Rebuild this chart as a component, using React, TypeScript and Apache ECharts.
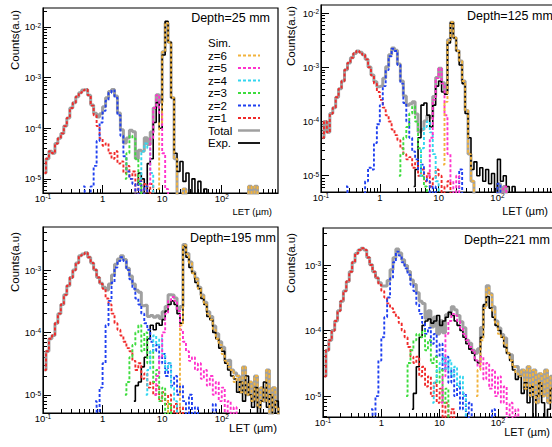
import { useEffect, useRef } from 'react';
import * as echarts from 'echarts';

const FONT = '"Liberation Sans", Arial, Helvetica, sans-serif';

// LET bin centres (µm), 20 bins per decade
const LET_BINS = [
  0.106, 0.119, 0.133, 0.150, 0.168, 0.188, 0.211, 0.237, 0.266, 0.299,
  0.335, 0.376, 0.422, 0.473, 0.531, 0.596, 0.668, 0.750, 0.841, 0.944,
  1.06, 1.19, 1.33, 1.50, 1.68, 1.88, 2.11, 2.37, 2.66, 2.99,
  3.35, 3.76, 4.22, 4.73, 5.31, 5.96, 6.68, 7.50, 8.41, 9.44,
  10.6, 11.9, 13.3, 15.0, 16.8, 18.8, 21.1, 23.7, 26.6, 29.9,
  33.5, 37.6, 42.2, 47.3, 53.1, 59.6, 66.8, 75.0, 84.1, 94.4,
  106, 119, 133, 150, 168, 188, 211, 237, 266, 299,
  335, 376, 422, 473, 531, 596, 668, 750, 841, 944,
];

const SPECIES = ['z=1', 'z=2', 'z=3', 'z=4', 'z=5', 'z=6'];
const SPECIES_COLORS = ['#f02a2a', '#2040f0', '#3ddc3d', '#33d6f0', '#ff33cc', '#f2b33d'];
const TOTAL_COLOR = '#a0a0a0';
const EXP_COLOR = '#000000';

// ---------- Depth = 25 mm ----------
const D25_Z1_FROM = 0;
const D25_Z1 = [1.3e-5, 2.5e-5, 3.5e-5, 3.2e-5, 5.0e-5, 6.3e-5, 7.9e-5, 1.1e-4, 1.6e-4, 2.5e-4, 3.2e-4, 4.2e-4, 5.0e-4, 5.6e-4, 5.8e-4, 4.5e-4, 2.8e-4, 1.8e-4, 1.1e-4, 6.3e-5, 4.5e-5, 5.0e-5, 3.2e-5, 2.5e-5, 3.5e-5, 2.0e-5, 2.2e-5, 1.3e-5, 1.8e-5, 1.0e-5, 1.4e-5, 0, 1.0e-5, 0, 7.9e-6, 0, 7.9e-6, 0];
const D25_Z2_FROM = 13;
const D25_Z2 = [7.1e-6, 0, 0, 7.1e-6, 1.8e-5, 5.6e-5, 1.3e-4, 2.2e-4, 3.5e-4, 5.0e-4, 5.6e-4, 4.0e-4, 1.8e-4, 7.1e-5, 2.8e-5, 1.4e-5, 1.0e-5, 7.9e-6, 0, 8.9e-6, 0, 7.1e-6, 0];
const D25_Z3_FROM = 27;
const D25_Z3 = [1.0e-5, 3.2e-5, 7.1e-5, 6.3e-5, 2.5e-5, 7.9e-6, 0];
const D25_Z4_FROM = 32;
const D25_Z4 = [1.0e-5, 3.5e-5, 5.0e-5, 4.0e-5, 1.3e-5, 0];
const D25_Z5_FROM = 35;
const D25_Z5 = [7.9e-6, 6.3e-5, 2.5e-4, 4.5e-4, 2.0e-4, 3.2e-5, 6.3e-6, 0];
const D25_Z6_FROM = 38;
const D25_Z6 = [6.3e-6, 1.3e-4, 3.2e-3, 1.2e-2, 5.0e-3, 4.0e-4, 2.5e-5, 0, 0, 6.3e-6,
  0, 0, 0, 0, 0, 0, 0, 0, 0, 0, 0, 0, 0, 0, 0, 0, 0, 0, 0, 0, 0,
  7.1e-6, 0, 7.1e-6, 0];
const D25_EXP_FROM = 31;
const D25_EXP = [7.9e-6, 1.3e-5, 1.0e-5, 0, 2.0e-5, 2.5e-5, 1.3e-4, 3.2e-4, 1.0e-4, 2.8e-3, 1.3e-2, 5.0e-3, 4.0e-4, 3.2e-5, 1.4e-5, 2.2e-5, 8.9e-6, 1.3e-5, 0, 1.0e-5, 0, 8.9e-6, 0, 6.3e-6, 0];

// ---------- Depth = 125 mm ----------
const D125_Z1_FROM = 0;
const D125_Z1 = [5.0e-5, 1.0e-4, 6.3e-5, 1.4e-4, 1.8e-4, 2.8e-4, 4.0e-4, 5.6e-4, 8.9e-4, 1.2e-3, 1.5e-3, 1.8e-3, 2.0e-3, 1.9e-3, 1.7e-3, 1.4e-3, 1.0e-3, 7.1e-4, 5.0e-4, 3.5e-4, 2.5e-4, 1.8e-4, 1.3e-4, 1.0e-4, 7.1e-5, 5.6e-5, 4.5e-5, 3.2e-5, 2.5e-5, 2.0e-5, 2.2e-5, 1.4e-5, 1.8e-5, 1.0e-5, 1.3e-5, 7.9e-6, 1.1e-5, 6.3e-6, 8.9e-6, 1.3e-5, 1.0e-5, 0, 6.3e-6, 7.9e-6, 0];
const D125_Z2_FROM = 8;
const D125_Z2 = [6.3e-6, 0, 0, 0, 0, 0, 0, 7.9e-6, 1.4e-5, 1.3e-5, 4.0e-5, 8.9e-5, 2.0e-4, 4.5e-4, 8.9e-4, 1.6e-3, 2.2e-3, 2.0e-3, 1.1e-3, 5.0e-4, 2.2e-4, 1.0e-4, 5.0e-5, 2.8e-5, 2.0e-5, 1.3e-5, 1.6e-5, 8.9e-6, 7.9e-6, 0, 6.3e-6, 0, 0, 0, 0, 0, 0, 0, 0, 1.3e-5, 0, 0, 0, 0, 0, 0, 0, 0, 0, 0, 0, 0, 7.1e-6, 0];
const D125_Z3_FROM = 26;
const D125_Z3 = [1.0e-5, 2.5e-5, 5.0e-5, 7.9e-5, 1.4e-4, 1.9e-4, 1.0e-4, 3.2e-5, 1.0e-5, 6.3e-6, 0];
const D125_Z4_FROM = 33;
const D125_Z4 = [1.0e-5, 3.2e-5, 7.9e-5, 1.0e-4, 6.3e-5, 2.5e-5, 7.9e-6, 0];
const D125_Z5_FROM = 36;
const D125_Z5 = [1.0e-5, 5.0e-5, 2.5e-4, 6.3e-4, 9.5e-4, 5.0e-4, 1.3e-4, 2.5e-5, 7.9e-6, 0, 1.0e-5, 0, 0, 0, 0, 0, 0, 0, 0, 0, 0, 0, 0, 0, 0, 0, 6.3e-6, 0];
const D125_Z6_FROM = 41;
const D125_Z6 = [1.6e-5, 2.3e-4, 3.2e-3, 6.8e-3, 3.5e-3, 2.0e-3, 1.3e-3, 5.6e-4, 1.6e-4, 2.5e-5, 7.9e-6, 0];
const D125_EXP_FROM = 31;
const D125_EXP = [6.3e-6, 1.3e-5, 5.0e-5, 2.0e-4, 2.2e-4, 1.3e-4, 7.9e-5, 2.0e-4, 4.5e-4, 5.6e-4, 3.5e-4, 3.2e-4, 2.8e-3, 6.6e-3, 3.5e-3, 2.0e-3, 1.1e-3, 5.0e-4, 1.4e-4, 5.0e-5, 1.3e-5, 1.8e-5, 1.0e-5, 1.4e-5, 7.9e-6, 1.3e-5, 7.1e-6, 1.1e-5, 0, 2.0e-5, 7.9e-6, 1.0e-5, 6.3e-6, 0, 6.3e-6, 0];

// ---------- Depth = 195 mm ----------
const D195_Z1_FROM = 0;
const D195_Z1 = [2.5e-5, 5.0e-5, 7.9e-5, 8.9e-5, 1.4e-4, 2.0e-4, 2.8e-4, 4.0e-4, 5.6e-4, 7.6e-4, 1.0e-3, 1.3e-3, 1.7e-3, 1.8e-3, 1.9e-3, 1.6e-3, 1.3e-3, 1.0e-3, 7.6e-4, 6.0e-4, 5.0e-4, 3.5e-4, 2.8e-4, 2.0e-4, 1.4e-4, 1.1e-4, 8.9e-5, 7.1e-5, 5.6e-5, 5.0e-5, 3.5e-5, 2.5e-5, 3.2e-5, 1.8e-5, 2.2e-5, 1.3e-5, 1.6e-5, 1.0e-5, 1.4e-5, 7.9e-6, 1.1e-5, 7.1e-6, 1.0e-5, 0, 7.1e-6, 0, 6.3e-6, 0];
const D195_Z2_FROM = 17;
const D195_Z2 = [7.9e-6, 0, 1.3e-5, 3.2e-5, 1.3e-4, 3.2e-4, 6.3e-4, 1.1e-3, 1.4e-3, 1.6e-3, 1.4e-3, 1.0e-3, 7.1e-4, 5.0e-4, 3.5e-4, 2.8e-4, 2.0e-4, 1.4e-4, 1.1e-4, 7.1e-5, 5.0e-5, 6.3e-5, 3.2e-5, 4.5e-5, 2.0e-5, 3.2e-5, 1.4e-5, 2.0e-5, 1.0e-5, 1.4e-5, 7.9e-6, 0, 1.0e-5, 0, 6.3e-6, 0, 0, 0, 0, 0, 7.1e-6, 0];
const D195_Z3_FROM = 27;
const D195_Z3 = [1.0e-5, 1.6e-5, 4.0e-5, 6.3e-5, 1.0e-4, 1.3e-4, 5.0e-5, 1.0e-4, 3.2e-5, 5.0e-5, 1.6e-5, 2.5e-5, 7.9e-6, 1.3e-5, 0, 7.1e-6, 0];
const D195_Z4_FROM = 34;
const D195_Z4 = [1.0e-5, 2.5e-5, 5.0e-5, 8.9e-5, 6.3e-5, 7.9e-5, 4.5e-5, 2.5e-5, 3.2e-5, 1.3e-5, 7.9e-6, 0];
const D195_Z5_FROM = 37;
const D195_Z5 = [1.0e-5, 2.0e-5, 4.0e-5, 1.0e-4, 2.0e-4, 3.2e-4, 3.7e-4, 3.2e-4, 2.2e-4, 1.1e-4, 7.1e-5, 5.0e-5, 3.5e-5, 4.0e-5, 2.5e-5, 3.2e-5, 1.8e-5, 2.5e-5, 1.4e-5, 2.0e-5, 1.0e-5, 1.6e-5, 7.9e-6, 1.3e-5, 0, 7.9e-6, 0, 6.3e-6, 0];
const D195_Z6_FROM = 41;
const D195_Z6 = [7.9e-6, 0, 0, 0, 0, 1.3e-4, 2.5e-3, 1.8e-3, 1.3e-3, 8.9e-4, 7.1e-4, 5.0e-4, 3.8e-4, 2.8e-4, 2.0e-4, 1.6e-4, 1.1e-4, 7.9e-5, 6.3e-5, 4.5e-5, 3.5e-5, 2.8e-5, 2.5e-5, 1.6e-5, 2.0e-5, 1.1e-5, 2.8e-5, 1.0e-5, 1.6e-5, 7.9e-6, 2.0e-5, 6.3e-6, 1.3e-5, 7.9e-6, 2.5e-5, 0, 1.3e-5, 6.3e-6, 0];
const D195_EXP_FROM = 30;
const D195_EXP = [7.9e-6, 1.4e-5, 1.6e-5, 2.8e-5, 4.0e-5, 7.9e-5, 1.3e-4, 1.1e-4, 1.4e-4, 1.3e-4, 1.6e-4, 2.2e-4, 2.8e-4, 3.2e-4, 2.8e-4, 2.0e-4, 1.4e-4, 2.4e-3, 1.6e-3, 1.1e-3, 8.9e-4, 6.3e-4, 5.0e-4, 3.5e-4, 2.8e-4, 1.8e-4, 1.6e-4, 1.0e-4, 7.9e-5, 5.6e-5, 5.0e-5, 3.2e-5, 2.5e-5, 2.0e-5, 1.8e-5, 1.1e-5, 1.6e-5, 7.9e-6, 2.0e-5, 1.0e-5, 6.3e-6, 1.3e-5, 0, 7.9e-6, 1.6e-5, 6.3e-6, 1.0e-5, 0, 7.9e-6, 0];

// ---------- Depth = 221 mm ----------
const D221_Z1_FROM = 0;
const D221_Z1 = [2.0e-5, 5.0e-5, 7.1e-5, 1.0e-4, 1.4e-4, 2.0e-4, 2.8e-4, 4.0e-4, 5.6e-4, 7.9e-4, 1.1e-3, 1.5e-3, 1.7e-3, 1.8e-3, 1.7e-3, 1.3e-3, 1.0e-3, 7.9e-4, 6.3e-4, 5.0e-4, 4.0e-4, 3.2e-4, 2.6e-4, 2.2e-4, 1.9e-4, 1.6e-4, 1.3e-4, 1.0e-4, 7.9e-5, 5.6e-5, 4.0e-5, 3.2e-5, 4.0e-5, 2.0e-5, 2.8e-5, 1.4e-5, 2.0e-5, 1.0e-5, 1.6e-5, 7.9e-6, 1.3e-5, 0, 7.9e-6, 0, 6.3e-6, 0];
const D221_Z2_FROM = 16;
const D221_Z2 = [6.3e-6, 0, 1.0e-5, 3.5e-5, 7.9e-5, 1.6e-4, 3.2e-4, 6.3e-4, 1.1e-3, 1.6e-3, 1.4e-3, 1.1e-3, 8.9e-4, 7.1e-4, 5.0e-4, 4.0e-4, 2.5e-4, 1.8e-4, 1.3e-4, 8.9e-5, 1.1e-4, 6.3e-5, 8.9e-5, 4.0e-5, 6.3e-5, 2.5e-5, 4.0e-5, 1.6e-5, 2.5e-5, 1.0e-5, 1.6e-5, 6.3e-6, 1.1e-5, 0, 7.9e-6, 0, 0, 0, 0, 0, 0, 0, 6.3e-6, 0];
const D221_Z3_FROM = 28;
const D221_Z3 = [1.0e-5, 3.2e-5, 5.0e-5, 7.1e-5, 8.9e-5, 7.9e-5, 1.0e-4, 5.0e-5, 7.1e-5, 3.2e-5, 4.0e-5, 1.6e-5, 2.5e-5, 7.9e-6, 1.3e-5, 0];
const D221_Z4_FROM = 37;
const D221_Z4 = [7.9e-6, 1.6e-5, 2.5e-5, 3.2e-5, 4.0e-5, 2.5e-5, 3.5e-5, 2.0e-5, 2.8e-5, 1.4e-5, 2.0e-5, 1.0e-5, 0];
const D221_Z5_FROM = 40;
const D221_Z5 = [7.9e-6, 2.0e-5, 8.9e-5, 1.4e-4, 1.8e-4, 1.7e-4, 1.4e-4, 1.1e-4, 8.9e-5, 7.1e-5, 5.6e-5, 5.0e-5, 3.5e-5, 2.8e-5, 4.0e-5, 1.8e-5, 3.2e-5, 1.3e-5, 2.5e-5, 1.0e-5, 2.0e-5, 7.9e-6, 1.4e-5, 0, 7.9e-6, 0, 6.3e-6, 0];
const D221_Z6_FROM = 52;
const D221_Z6 = [1.0e-5, 2.5e-5, 7.1e-5, 2.2e-4, 4.5e-4, 3.5e-4, 2.0e-4, 1.3e-4, 8.9e-5, 7.9e-5, 6.3e-5, 4.5e-5, 3.5e-5, 2.8e-5, 2.2e-5, 2.0e-5, 2.5e-5, 1.3e-5, 2.8e-5, 1.0e-5, 2.5e-5, 7.9e-6, 2.2e-5, 1.0e-5, 2.5e-5, 7.9e-6, 2.0e-5, 1.0e-5];
const D221_EXP_FROM = 30;
const D221_EXP = [6.3e-6, 1.1e-5, 2.8e-5, 7.9e-5, 1.2e-4, 1.4e-4, 1.5e-4, 1.3e-4, 1.4e-4, 1.7e-4, 1.2e-4, 1.4e-4, 1.6e-4, 1.9e-4, 1.7e-4, 1.4e-4, 1.2e-4, 1.0e-4, 7.9e-5, 6.3e-5, 5.2e-5, 4.5e-5, 3.5e-5, 3.2e-5, 7.9e-5, 2.5e-4, 3.3e-4, 2.2e-4, 1.6e-4, 1.2e-4, 1.0e-4, 7.9e-5, 5.6e-5, 4.5e-5, 3.5e-5, 2.5e-5, 1.8e-5, 2.0e-5, 1.1e-5, 1.6e-5, 7.9e-6, 1.4e-5, 0, 1.0e-5, 1.6e-5, 7.9e-6, 0, 6.3e-6, 1.3e-5, 0];

// Axis ranges
const X_MIN = 0.1;
const X_MAX = 880;

type Hist = [number, number[]];
type Panel = {
  depth: string;
  yMin: number;
  yMax: number;
  sims: Hist[];
  exp: Hist;
  grid: { left: number; top: number; width: number; height: number };
  depthPos: [number, number, string];
  yNamePos: [number, number];
  xNamePos: [number, number, string, number];
};

const PANELS: Panel[] = [
  {
    depth: 'Depth=25 mm', yMin: 5.25e-6, yMax: 0.0237,
    sims: [[D25_Z1_FROM, D25_Z1], [D25_Z2_FROM, D25_Z2], [D25_Z3_FROM, D25_Z3], [D25_Z4_FROM, D25_Z4], [D25_Z5_FROM, D25_Z5], [D25_Z6_FROM, D25_Z6]],
    exp: [D25_EXP_FROM, D25_EXP],
    grid: { left: 43, top: 8, width: 235, height: 185 },
    depthPos: [270, 18, 'right'], yNamePos: [15, 40], xNamePos: [272, 211, 'right', 9.5],
  },
  {
    depth: 'Depth=125 mm', yMin: 5.0e-6, yMax: 0.0141,
    sims: [[D125_Z1_FROM, D125_Z1], [D125_Z2_FROM, D125_Z2], [D125_Z3_FROM, D125_Z3], [D125_Z4_FROM, D125_Z4], [D125_Z5_FROM, D125_Z5], [D125_Z6_FROM, D125_Z6]],
    exp: [D125_EXP_FROM, D125_EXP],
    grid: { left: 321, top: 5, width: 232, height: 187 },
    depthPos: [467, 16, 'left'], yNamePos: [291, 36], xNamePos: [548, 211, 'right', 11],
  },
  {
    depth: 'Depth=195 mm', yMin: 5.1e-6, yMax: 0.0049,
    sims: [[D195_Z1_FROM, D195_Z1], [D195_Z2_FROM, D195_Z2], [D195_Z3_FROM, D195_Z3], [D195_Z4_FROM, D195_Z4], [D195_Z5_FROM, D195_Z5], [D195_Z6_FROM, D195_Z6]],
    exp: [D195_EXP_FROM, D195_EXP],
    grid: { left: 43, top: 227, width: 235, height: 186 },
    depthPos: [190, 238, 'left'], yNamePos: [15, 262], xNamePos: [277, 428, 'right', 11.5],
  },
  {
    depth: 'Depth=221 mm', yMin: 4.8e-6, yMax: 0.00367,
    sims: [[D221_Z1_FROM, D221_Z1], [D221_Z2_FROM, D221_Z2], [D221_Z3_FROM, D221_Z3], [D221_Z4_FROM, D221_Z4], [D221_Z5_FROM, D221_Z5], [D221_Z6_FROM, D221_Z6]],
    exp: [D221_EXP_FROM, D221_EXP],
    grid: { left: 323, top: 228, width: 230, height: 189 },
    depthPos: [464, 240, 'left'], yNamePos: [291, 263], xNamePos: [550, 432, 'right', 11],
  },
];

// empty bins are drawn below the frame (clipped), like ROOT does
const EMPTY_BIN = 1e-8;

function binned([from, counts]: Hist) {
  return counts.map((c, k) => [LET_BINS[from + k], c > 0 ? c : EMPTY_BIN]);
}

function totalOf(parts: Hist[]) {
  const sums = LET_BINS.map(() => 0);
  let lo = LET_BINS.length, hi = -1;
  parts.forEach(([from, counts]) => counts.forEach((c, k) => {
    sums[from + k] += c;
    if (c > 0) { lo = Math.min(lo, from + k); hi = Math.max(hi, from + k); }
  }));
  const out: number[][] = [];
  for (let i = lo; i <= Math.min(hi + 1, LET_BINS.length - 1); i++) out.push([LET_BINS[i], sums[i] > 0 ? sums[i] : EMPTY_BIN]);
  return out;
}

function minorTicks(lo: number, hi: number) {
  const out: number[] = [];
  for (let k = -7; k <= 3; k++) for (let m = 2; m <= 9; m++) {
    const v = m * Math.pow(10, k);
    if (v > lo && v < hi) out.push(v);
  }
  return out;
}

function logLabel(v: number) {
  const l = Math.log10(v);
  const k = Math.round(l);
  if (Math.abs(l - k) > 1e-6) return '';
  if (k === 0) return '{b|1}';
  if (k === 1) return '{b|10}';
  return `{b|10}{s|${k}}`;
}

const RICH = {
  b: { fontSize: 9.5, fontFamily: FONT, color: '#000', lineHeight: 10, padding: [4, 0, 0, 0], verticalAlign: 'bottom' },
  s: { fontSize: 6.5, fontFamily: FONT, color: '#000', lineHeight: 7, verticalAlign: 'top' },
};

function buildOption() {
  const grid: any[] = [];
  const xAxis: any[] = [];
  const yAxis: any[] = [];
  const series: any[] = [];
  const graphic: any[] = [];

  PANELS.forEach((p, pi) => {
    grid.push({ ...p.grid, show: true, borderColor: '#000', borderWidth: 1.2, backgroundColor: 'transparent', containLabel: false, outerBoundsMode: 'none' });
    const common = { type: 'log', logBase: 10, gridIndex: pi, splitLine: { show: false }, minorTick: { show: false } };
    xAxis.push({
      ...common, min: X_MIN, max: X_MAX, position: 'bottom',
      axisLine: { show: true, onZero: false, lineStyle: { color: '#000', width: 1 } },
      axisTick: { show: true, inside: true, length: 8, lineStyle: { color: '#000', width: 1 } },
      axisLabel: { show: true, formatter: logLabel, rich: RICH, margin: 0, showMinLabel: true, showMaxLabel: false, hideOverlap: false },
    });
    xAxis.push({
      ...common, min: X_MIN, max: X_MAX, position: 'bottom',
      axisLine: { show: false }, axisLabel: { show: false },
      axisTick: { show: true, inside: true, length: 4, lineStyle: { color: '#000', width: 1 }, customValues: minorTicks(X_MIN, X_MAX) },
    });
    yAxis.push({
      ...common, min: p.yMin, max: p.yMax, position: 'left',
      axisLine: { show: true, onZero: false, lineStyle: { color: '#000', width: 1 } },
      axisTick: { show: true, inside: true, length: 8, lineStyle: { color: '#000', width: 1 } },
      axisLabel: { show: true, formatter: logLabel, rich: RICH, margin: 2, showMinLabel: false, showMaxLabel: false, hideOverlap: false },
    });
    yAxis.push({
      ...common, min: p.yMin, max: p.yMax, position: 'left',
      axisLine: { show: false }, axisLabel: { show: false },
      axisTick: { show: true, inside: true, length: 4, lineStyle: { color: '#000', width: 1 }, customValues: minorTicks(p.yMin, p.yMax) },
    });

    const ax = { xAxisIndex: pi * 2, yAxisIndex: pi * 2 };
    series.push({
      name: 'Total', type: 'line', ...ax, data: totalOf(p.sims), step: 'middle', symbol: 'none', clip: true,
      lineStyle: { color: TOTAL_COLOR, width: 3 }, z: 2, silent: true,
    });
    series.push({
      name: 'Exp.', type: 'line', ...ax, data: binned(p.exp), step: 'middle', symbol: 'none', clip: true,
      lineStyle: { color: EXP_COLOR, width: 1.6 }, z: 3, silent: true,
    });
    p.sims.forEach((h, si) => {
      series.push({
        name: SPECIES[si], type: 'line', ...ax, data: binned(h), step: 'middle', symbol: 'none', clip: true,
        lineStyle: { color: SPECIES_COLORS[si], width: 1.9, type: [3, 2] }, z: 4, silent: true,
      });
    });

    graphic.push({
      type: 'text', x: p.depthPos[0], y: p.depthPos[1], z: 10,
      style: { text: p.depth, font: `12.5px ${FONT}`, fill: '#000', align: p.depthPos[2], verticalAlign: 'middle', textAlign: p.depthPos[2], textVerticalAlign: 'middle' },
    });
    graphic.push({
      type: 'text', x: p.yNamePos[0], y: p.yNamePos[1], rotation: Math.PI / 2, z: 10,
      style: { text: 'Counts(a.u)', font: `11.5px ${FONT}`, fill: '#000', align: 'center', verticalAlign: 'middle', textAlign: 'center', textVerticalAlign: 'middle' },
    });
    graphic.push({
      type: 'text', x: p.xNamePos[0], y: p.xNamePos[1], z: 10,
      style: { text: 'LET (µm)', font: `${p.xNamePos[3]}px ${FONT}`, fill: '#000', align: p.xNamePos[2], verticalAlign: 'middle', textAlign: p.xNamePos[2], textVerticalAlign: 'middle' },
    });
  });

  // Legend (first panel)
  const legendRows: [string, string | null, number[] | null, number][] = [
    ['Sim.', null, null, 0],
    ...SPECIES.map((s, i) => [s, SPECIES_COLORS[i], [3, 2], 1.9] as [string, string, number[], number]).reverse(),
    ['Total', TOTAL_COLOR, null, 2.5],
    ['Exp.', EXP_COLOR, null, 1.8],
  ];
  legendRows.forEach(([label, color, dash, w], r) => {
    const y = 43 + r * 12.5;
    graphic.push({
      type: 'text', x: 208, y, z: 10,
      style: { text: label, font: `11.5px ${FONT}`, fill: '#000', align: 'left', verticalAlign: 'middle', textAlign: 'left', textVerticalAlign: 'middle' },
    });
    if (color) {
      graphic.push({
        type: 'line', z: 10, shape: { x1: 238, y1: y, x2: 260, y2: y },
        style: { stroke: color, lineWidth: w, lineDash: dash || undefined },
      });
    }
  });

  return { animation: false, backgroundColor: '#fff', grid, xAxis, yAxis, series, graphic };
}

export default function App() {
  const ref = useRef<HTMLDivElement>(null);
  useEffect(() => {
    document.body.style.margin = '0';
    const chart = echarts.init(ref.current!, undefined, { renderer: 'svg', width: 552, height: 447 });
    chart.setOption(buildOption() as any);
    return () => chart.dispose();
  }, []);
  return <div ref={ref} style={{ width: 552, height: 447, position: 'absolute', left: 0, top: 0, background: '#fff' }} />;
}
